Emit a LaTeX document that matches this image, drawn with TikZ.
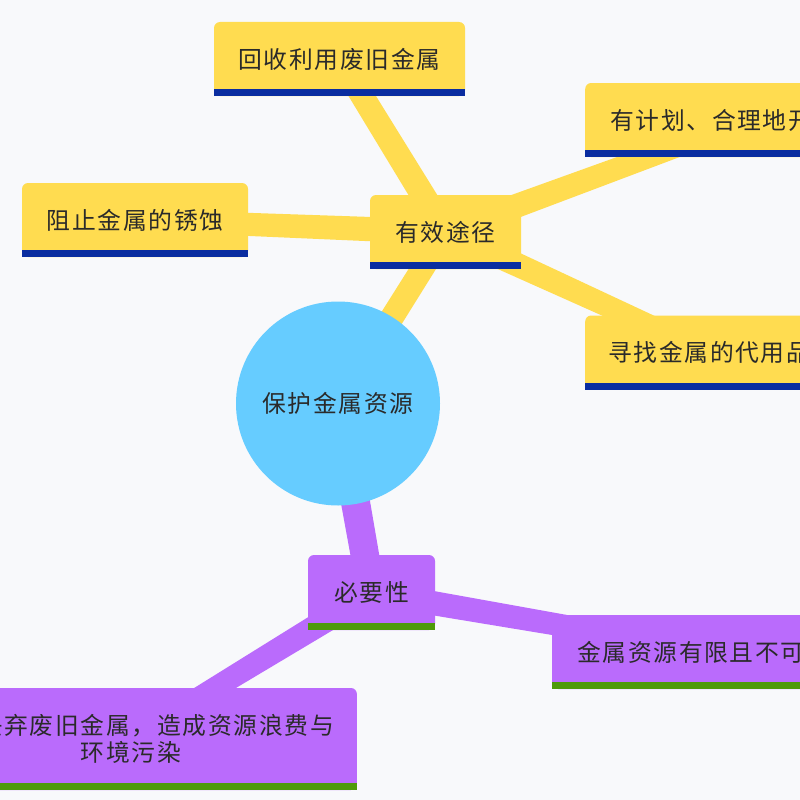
\documentclass[tikz,border=0pt]{standalone}
\usepackage{fontspec}
\newfontfamily\cjk[LetterSpace=7]{Noto Sans CJK SC}
\usetikzlibrary{calc,backgrounds}
\definecolor{bgc}{HTML}{F8F9FB}
\definecolor{ylw}{HTML}{FFDC50}
\definecolor{blu}{HTML}{0A2DA0}
\definecolor{pur}{HTML}{BA6BFC}
\definecolor{grn}{HTML}{4E9A0A}
\definecolor{cir}{HTML}{66CCFF}
\definecolor{txt}{HTML}{2A2A2A}
\newcommand\branch[5]{\fill[#1] ($(#2)!#4!90:(#3)$) -- ($(#3)!#5!-90:(#2)$) -- ($(#3)!#5!90:(#2)$) -- ($(#2)!#4!-90:(#3)$) -- cycle;}
\newcommand\boxbar[2]{\fill[#2] (#1.south west) rectangle ([yshift=7pt]#1.south east);}
\tikzset{
  mmbox/.style={rectangle, rounded corners=6pt, inner xsep=23pt, inner ysep=0pt,
    minimum height=74pt, font=\cjk\fontsize{23.8}{27}\selectfont, text=txt},
  ybox/.style={mmbox, fill=ylw},
  pbox/.style={mmbox, fill=pur},
  rootnode/.style={circle, fill=cir, minimum size=204pt, inner sep=0pt,
    font=\cjk\fontsize{23.8}{27}\selectfont, text=txt}
}
\begin{document}
\begin{tikzpicture}[x=1pt,y=-1pt]
\useasboundingbox (0,0) rectangle (800,800);
\clip (0,0) rectangle (800,800);
\begin{scope}[on background layer]
  \clip (0,0) rectangle (800,800);
  \fill[bgc] (0,0) rectangle (800,800);
\end{scope}
% nodes
\node[rootnode] (c) at (338,403.5) {保护金属资源};
\node[ybox, minimum width=151pt] (yx) at (445.5,232) {有效途径};
\node[ybox, minimum width=251pt] (hs) at (339.5,59) {回收利用废旧金属};
\node[ybox, minimum width=226pt] (zz) at (135,220) {阻止金属的锈蚀};
\node[ybox, anchor=west, inner xsep=25pt] (yj) at (585,120) {有计划、合理地开采矿物};
\node[ybox, anchor=west] (xz) at (585,352.5) {寻找金属的代用品};
\node[pbox, minimum width=127pt, minimum height=75pt] (by) at (371.5,592.5) {必要性};
\node[pbox, anchor=west, inner xsep=25pt] (js) at (552,652) {金属资源有限且不可再生};
\node[pbox, align=center, minimum height=102pt] (sy) at (131,739) {随意丢弃废旧金属，造成资源浪费与\\环境污染};
% bars
\boxbar{yx}{blu}
\boxbar{hs}{blu}
\boxbar{zz}{blu}
\boxbar{yj}{blu}
\boxbar{xz}{blu}
\boxbar{by}{grn}
\boxbar{js}{grn}
\boxbar{sy}{grn}
% connectors
\begin{scope}[on background layer]
  \clip (0,0) rectangle (800,800);
  \branch{ylw}{c}{yx}{12pt}{11.5pt}
  \branch{ylw}{yx}{hs}{12.5pt}{11.5pt}
  \branch{ylw}{yx}{zz}{12.5pt}{11pt}
  \branch{ylw}{yx}{yj}{12.5pt}{10pt}
  \branch{ylw}{yx}{xz}{12.5pt}{10pt}
  \branch{pur}{c}{by}{15pt}{14pt}
  \branch{pur}{by}{js}{12.5pt}{10pt}
  \branch{pur}{by}{sy}{12.5pt}{10pt}
\end{scope}
\end{tikzpicture}
\end{document}
